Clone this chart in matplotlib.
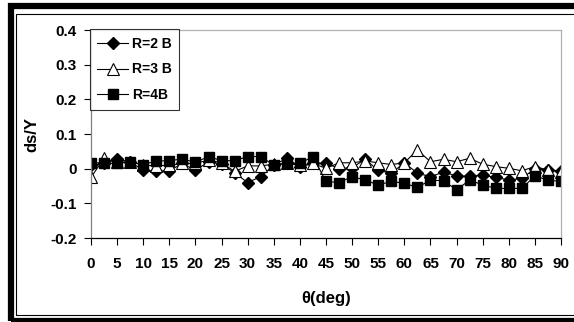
import matplotlib
matplotlib.use("Agg")
from matplotlib import pyplot as plt
from matplotlib.patches import Rectangle

theta = [i * 2.5 for i in range(37)]

r2 = [0.010, 0.015, 0.027, 0.020, -0.005, -0.008, -0.006, 0.015, -0.005, 0.020,
      0.013, -0.012, -0.040, -0.023, 0.010, 0.030, 0.005, 0.015, 0.016, 0.000,
      0.003, 0.027, -0.005, -0.013, 0.017, -0.013, -0.023, -0.010, -0.021, -0.022,
      -0.019, -0.025, -0.033, -0.028, 0.000, -0.003, -0.007]

r3 = [-0.025, 0.030, 0.018, 0.020, 0.010, 0.008, 0.010, 0.015, 0.015, 0.025,
      0.017, -0.008, 0.008, 0.008, 0.013, 0.015, 0.010, 0.015, 0.001, 0.017,
      0.017, 0.022, 0.017, 0.012, 0.017, 0.054, 0.020, 0.027, 0.020, 0.030,
      0.013, 0.006, 0.001, -0.006, 0.006, -0.004, -0.010]

r4 = [0.017, 0.016, 0.015, 0.020, 0.012, 0.022, 0.023, 0.028, 0.018, 0.035,
      0.023, 0.023, 0.035, 0.035, 0.010, 0.015, 0.015, 0.035, -0.037, -0.040,
      -0.023, -0.033, -0.047, -0.037, -0.042, -0.054, -0.033, -0.035, -0.061, -0.033,
      -0.047, -0.057, -0.057, -0.057, -0.021, -0.033, -0.037]

labels = ["R=2 B", "R=3 B", "R=4B"]

plt.rcParams['font.family'] = ['Liberation Sans', 'DejaVu Sans']
plt.rcParams['font.weight'] = 'bold'

fig = plt.figure(figsize=(5.74, 3.22), dpi=100)
ax = fig.add_axes([91 / 574, 84 / 322, 470 / 574, 208 / 322])

ax.plot(theta, r2, color='black', lw=0.8, marker='D', ms=6, mfc='black', mec='black', label=labels[0])
ax.plot(theta, r3, color='black', lw=0.8, marker='^', ms=8, mfc='white', mec='black', mew=0.8, label=labels[1])
ax.plot(theta, r4, color='black', lw=0.8, marker='s', ms=6.5, mfc='black', mec='black', label=labels[2])

ax.set_xlim(0, 90)
ax.set_ylim(-0.2, 0.4)
ax.set_xticks(range(0, 91, 5))
ax.set_yticks([-0.2, -0.1, 0, 0.1, 0.2, 0.3, 0.4])
ax.set_yticklabels(["-0.2", "-0.1", "0", "0.1", "0.2", "0.3", "0.4"])
ax.tick_params(axis='both', labelsize=11, length=5, width=0.8, direction='out')
ax.tick_params(axis='x', pad=9)
ax.tick_params(axis='y', pad=5)

ax.spines['left'].set_color('#808080')
ax.spines['bottom'].set_color('black')
ax.spines['top'].set_color('#b0b0b0')
ax.spines['right'].set_color('#b0b0b0')
for s in ax.spines.values():
    s.set_linewidth(0.9)

ax.set_ylabel("ds/Y", fontsize=12, fontweight='bold', labelpad=8)
ax.set_xlabel("θ(deg)", fontsize=12, fontweight='bold', labelpad=14)

leg = ax.legend(loc='upper left', bbox_to_anchor=(-0.003, 1.005), borderaxespad=0,
                fontsize=10, frameon=True, fancybox=False, edgecolor='black',
                handlelength=2.2, labelspacing=0.85, handletextpad=0.3, borderpad=0.55)
leg.get_frame().set_linewidth(0.8)

W, H = 574, 322
fig.patches.append(Rectangle((10.5 / W, 1.5 / H), 600 / W, 314.5 / H, transform=fig.transFigure,
                             fill=False, edgecolor='black', lw=4.5))
fig.patches.append(Rectangle((15.5 / W, 7 / H), 600 / W, 301.5 / H, transform=fig.transFigure,
                             fill=False, edgecolor='black', lw=0.8))

fig.savefig("out.png", dpi=100)
